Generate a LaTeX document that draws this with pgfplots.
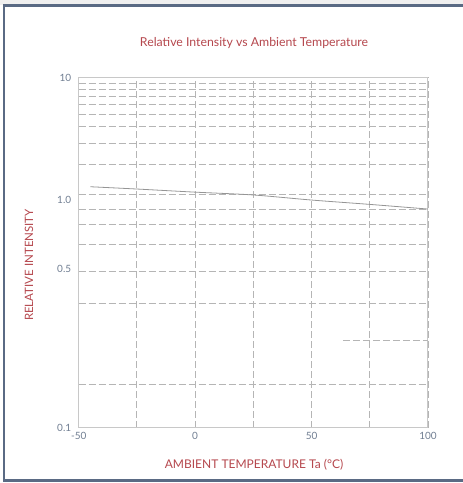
\documentclass[border=0pt]{standalone}
\usepackage{fontspec}
\setmainfont{Lato}
\usepackage{pgfplots}
\pgfplotsset{compat=1.18}

\definecolor{titlered}{HTML}{B5474D}
\definecolor{tickblue}{HTML}{6F7D91}
\definecolor{framecol}{HTML}{5A6A84}
\definecolor{gridgray}{HTML}{B5B5B5}
\definecolor{axisgray}{HTML}{C8C8C8}
\definecolor{curvegray}{HTML}{959595}

\begin{document}
\begin{tikzpicture}
\useasboundingbox (0,0) rectangle (463pt,483pt);
\fill[black!6] (0,478pt) rectangle (463pt,483pt);
\draw[framecol, line width=2.6pt] (463pt,477.4pt) -- (4pt,477.4pt) -- (4pt,2.4pt) -- (463pt,2.4pt);

\begin{axis}[
    at={(78.7pt,55.3pt)}, anchor=south west,
    width=349.3pt, height=350.2pt, scale only axis,
    % the chart's y scale: decade 0.1-1 is taller than decade 1-10
    y coord trafo/.code={\pgfmathparse{(#1<=1) ? (227.7*(1+log10(#1))) : (227.7+122.5*log10(#1))}},
    y coord inv trafo/.code={\pgfmathparse{#1}},
    xmin=-50, xmax=100, ymin=0.1, ymax=10,
    xtick={-50,-25,0,25,50,75,100},
    xticklabels={-50,,0,,50,,100},
    ytick={0.1,0.5,1,10},
    yticklabels={0.1,0.5,1.0,10},
    extra y ticks={0.154,0.3526,0.488,0.641,0.784,0.913,1.11,1.97,2.87,4,5,6,7,8,9},
    extra y tick labels={},
    extra y tick style={grid=major},
    xmajorgrids,
    major tick length=0pt,
    grid style={gridgray, line width=0.9pt, dash pattern=on 7pt off 3pt},
    axis line style={axisgray, line width=1pt},
    tick label style={font=\fontsize{10}{11}\selectfont, text=tickblue},
    yticklabel style={xshift=-4pt},
    xticklabel style={yshift=-1pt},
    clip=false,
]
\addplot[gridgray, line width=0.9pt, dash pattern=on 7pt off 3pt] coordinates {(63.4,0.241) (100,0.241)};
\addplot[curvegray, line width=0.8pt, smooth] coordinates {
    (-45,1.284) (-25,1.23) (0,1.16) (25,1.10) (50,1.0) (75,0.957) (100,0.913)
};
\end{axis}

\node[text=titlered, font=\fontsize{12.3}{14}\selectfont] at (254pt,439.5pt) {Relative Intensity vs Ambient Temperature};
\node[text=titlered, font=\fontsize{12}{14}\selectfont] at (254pt,18pt) {AMBIENT TEMPERATURE Ta (°C)};
\node[text=titlered, font=\fontsize{11.5}{13}\selectfont, rotate=90] at (29pt,218pt) {RELATIVE INTENSITY};
\end{tikzpicture}
\end{document}
